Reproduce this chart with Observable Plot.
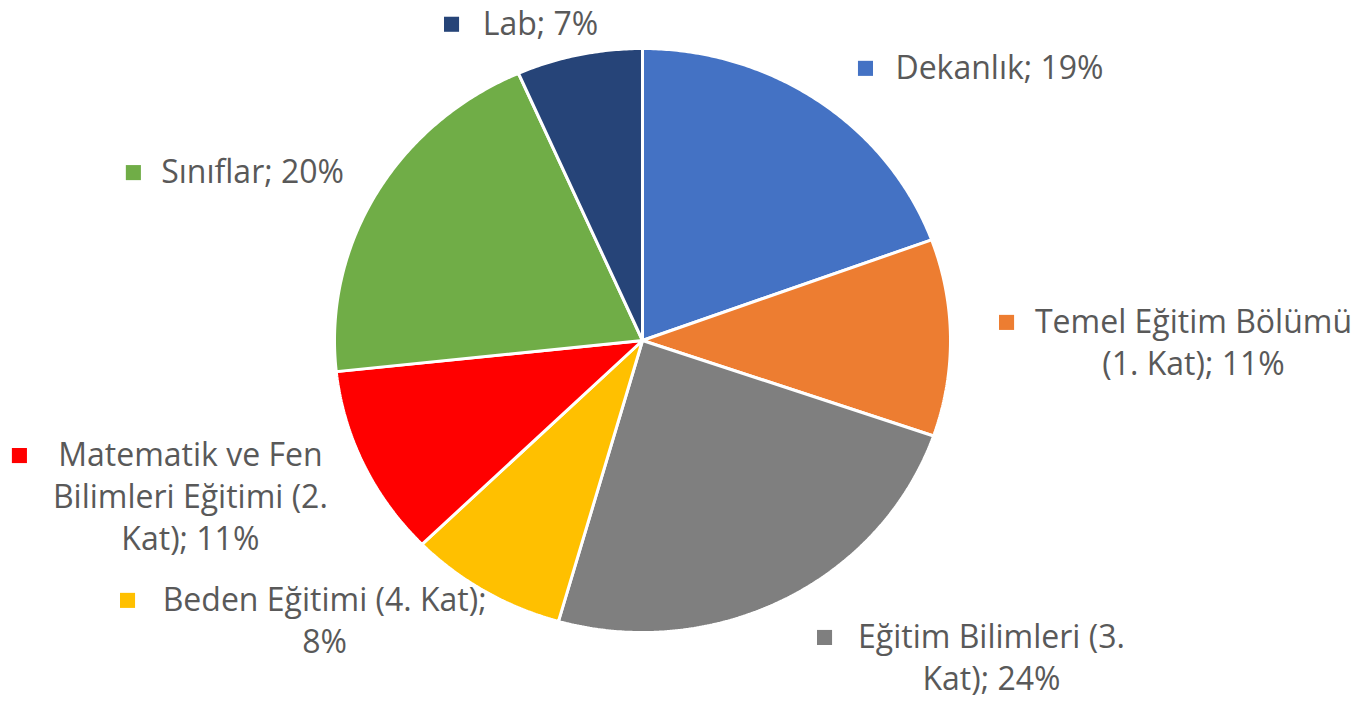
<!DOCTYPE html>
<html>
<head>
<meta charset="utf-8">
<script src="https://cdn.jsdelivr.net/npm/d3@7"></script>
<script src="https://cdn.jsdelivr.net/npm/@observablehq/plot@0.6"></script>
<style>
  html, body { margin: 0; padding: 0; background: #fff; }
  #chart svg { display: block; }
</style>
</head>
<body>
<div id="chart"></div>
<script>
// ---- data ----
const categories = [
  "Dekanlık",
  "Temel Eğitim Bölümü (1. Kat)",
  "Eğitim Bilimleri (3. Kat)",
  "Beden Eğitimi (4. Kat)",
  "Matematik ve Fen Bilimleri Eğitimi (2. Kat)",
  "Sınıflar",
  "Lab"
];
const shares = [19.4, 10.9, 24.1, 8.3, 10.6, 20.1, 6.6];
const colors = ["#4472C4", "#ED7D31", "#7F7F7F", "#FFC000", "#FF0000", "#70AD47", "#264478"];
// label text lines (percentage appended from data)
const labelLines = [
  ["Dekanlık; {p}"],
  ["Temel Eğitim Bölümü", "(1. Kat); {p}"],
  ["Eğitim Bilimleri (3.", "Kat); {p}"],
  ["Beden Eğitimi (4. Kat);", "{p}"],
  ["Matematik ve Fen", "Bilimleri Eğitimi (2.", "Kat); {p}"],
  ["Sınıflar; {p}"],
  ["Lab; {p}"]
];

// ---- layout (in pie-radius units) ----
const markerPos = [[0.724, 0.932], [1.182, 0.062], [0.591, -1.017], [-1.672, -0.890], [-2.023, -0.394], [-1.653, 0.575], [-0.620, 1.083]];
const textCenterX = [1.159, 1.789, 1.133, -1.032, -1.468, -1.266, -0.331];
const lineStep = 0.144;

// ---- build slices with d3.pie ----
const pie = d3.pie().sort(null).value(d => d)(shares);
const slicePts = [];
pie.forEach((s, i) => {
  const name = categories[i];
  slicePts.push({name, x: 0, y: 0});
  const n = Math.max(2, Math.ceil((s.endAngle - s.startAngle) / (Math.PI / 360)));
  for (let k = 0; k <= n; k++) {
    const a = s.startAngle + (s.endAngle - s.startAngle) * k / n;
    slicePts.push({name, x: Math.sin(a), y: Math.cos(a)});
  }
  slicePts.push({name, x: 0, y: 0});
});

const markers = categories.map((c, i) => ({name: c, x: markerPos[i][0], y: markerPos[i][1]}));
const texts = [];
categories.forEach((c, i) => {
  const p = Math.round(shares[i]) + "%";
  labelLines[i].forEach((ln, j) => {
    texts.push({text: ln.replace("{p}", p), x: textCenterX[i], y: markerPos[i][1] - j * lineStep});
  });
});

const chart = Plot.plot({
  width: 1362,
  height: 703,
  margin: 0,
  x: {domain: [-1, 1], range: [334, 950], axis: null},
  y: {domain: [-1, 1], range: [632, 48], axis: null},
  color: {domain: categories, range: colors},
  style: {fontFamily: "'Open Sans', Lato, sans-serif", background: "#fff"},
  marks: [
    Plot.line(slicePts, {x: "x", y: "y", z: "name", fill: "name", stroke: "white", strokeWidth: 3, strokeLinejoin: "miter"}),
    Plot.dot(markers, {x: "x", y: "y", fill: "name", symbol: "square", r: 8.5, stroke: null}),
    Plot.text(texts, {x: "x", y: "y", text: "text", fontSize: 32, fill: "#595959", textAnchor: "middle"})
  ]
});
document.getElementById("chart").appendChild(chart);
</script>
</body>
</html>
